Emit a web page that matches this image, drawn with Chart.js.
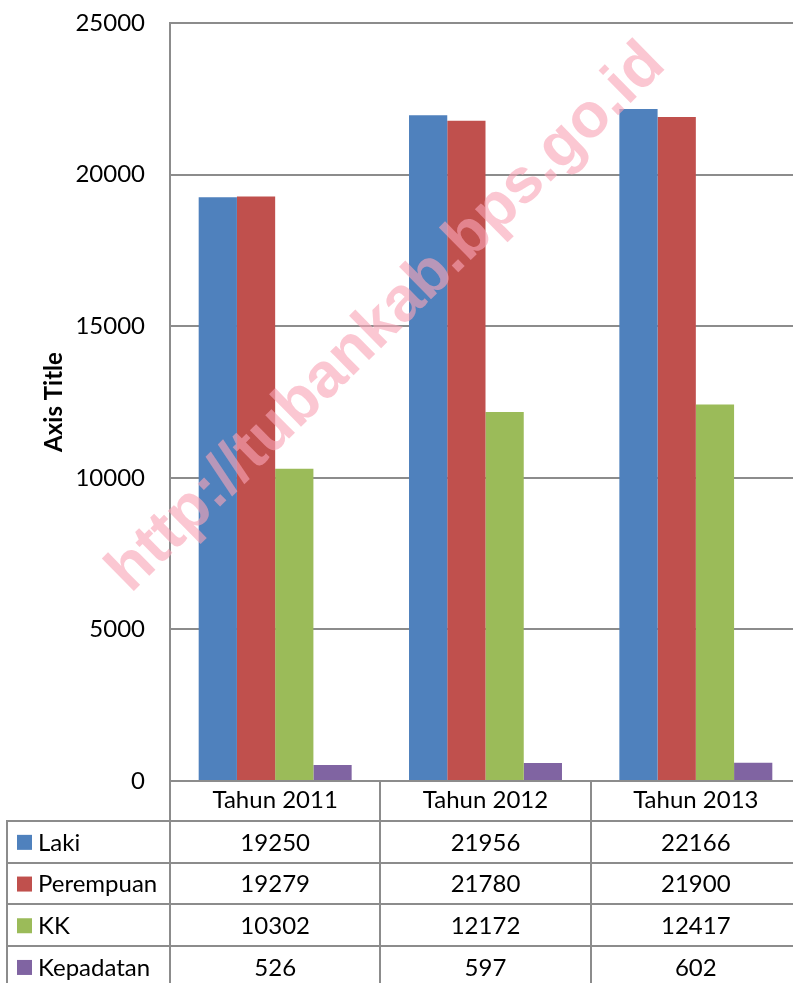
<!DOCTYPE html>
<html>
<head>
<meta charset="utf-8">
<script src="https://cdn.jsdelivr.net/npm/chart.js@4.4.0/dist/chart.umd.min.js"></script>
<style>
  html, body { margin: 0; padding: 0; background: #fff; }
  body { width: 793px; height: 983px; overflow: hidden; }
</style>
</head>
<body>
<canvas id="chart" width="801" height="983"></canvas>
<script>
// data
const categories = ['Tahun 2011', 'Tahun 2012', 'Tahun 2013'];
const laki = [19250, 21956, 22166];
const perempuan = [19279, 21780, 21900];
const kk = [10302, 12172, 12417];
const kepadatan = [526, 597, 602];
const seriesNames = ['Laki', 'Perempuan', 'KK', 'Kepadatan'];
const seriesColors = ['#4F81BD', '#C0504D', '#9BBB59', '#8064A2'];
const yMax = 25000;
const yStep = 5000;
const watermark = 'http://tubankab.bps.go.id';

const FONT = 'Lato, "Open Sans", sans-serif';
const LINE = '#8c8c8c';

// draws the data table under the plot, columns taken from the x scale
const dataTable = {
    id: 'dataTable',
    afterDraw(chart) {
        const { ctx, chartArea, scales: { x } } = chart;
        const headerH = 40, rowH = 41.7, tableLeft = 7;
        const top = chartArea.bottom;
        const bottom = chart.height;
        const half = (x.getPixelForValue(1) - x.getPixelForValue(0)) / 2;

        ctx.save();
        ctx.strokeStyle = LINE;
        ctx.lineWidth = 2;
        ctx.beginPath();
        ctx.moveTo(chartArea.left, top);
        ctx.lineTo(chartArea.left, bottom);
        categories.forEach((c, i) => {
            const e = Math.round(x.getPixelForValue(i) + half);
            ctx.moveTo(e, top);
            ctx.lineTo(e, bottom);
        });
        ctx.moveTo(tableLeft, top + headerH);
        ctx.lineTo(tableLeft, bottom);
        for (let r = 0; r < seriesNames.length; r++) {
            const y = Math.round(top + headerH + r * rowH);
            ctx.moveTo(tableLeft - 1, y);
            ctx.lineTo(chartArea.right, y);
        }
        ctx.stroke();

        ctx.font = '24px ' + FONT;
        ctx.textBaseline = 'middle';
        chart.data.datasets.forEach((ds, r) => {
            const cy = top + headerH + r * rowH + rowH / 2 + 1;
            ctx.fillStyle = ds.backgroundColor;
            ctx.fillRect(17, cy - 8, 15, 15);
            ctx.fillStyle = '#000';
            ctx.textAlign = 'left';
            ctx.fillText(ds.label, 38, cy);
            ctx.textAlign = 'center';
            ds.data.forEach((v, i) => ctx.fillText(String(v), x.getPixelForValue(i), cy));
        });
        ctx.restore();
    }
};

const watermarkText = {
    id: 'watermarkText',
    afterDraw(chart) {
        const { ctx } = chart;
        ctx.save();
        ctx.translate(387, 318);
        ctx.rotate(-44.5 * Math.PI / 180);
        ctx.font = 'bold 63px "Liberation Sans", Arial, sans-serif';
        ctx.textAlign = 'center';
        ctx.textBaseline = 'middle';
        ctx.fillStyle = 'rgba(248, 165, 182, 0.62)';
        ctx.fillText(watermark, 0, 0);
        ctx.restore();
    }
};

const seriesData = [laki, perempuan, kk, kepadatan];

new Chart(document.getElementById('chart'), {
    type: 'bar',
    data: {
        labels: categories,
        datasets: seriesNames.map((name, i) => ({
            label: name,
            data: seriesData[i],
            backgroundColor: seriesColors[i],
            borderWidth: 0,
            barPercentage: 1,
            categoryPercentage: 4 / 5.5
        }))
    },
    options: {
        responsive: false,
        animation: false,
        layout: { padding: { top: 23, left: 0, right: 0, bottom: 0 } },
        plugins: {
            legend: { display: false },
            tooltip: { enabled: false }
        },
        scales: {
            x: {
                grid: { display: false, drawTicks: false },
                border: { display: false },
                ticks: {
                    color: '#000',
                    font: { family: FONT, size: 24 },
                    padding: 5,
                    maxRotation: 0
                },
                afterFit(scale) { scale.height = 202; }
            },
            y: {
                min: 0,
                max: yMax,
                ticks: {
                    stepSize: yStep,
                    color: '#000',
                    font: { family: FONT, size: 24 },
                    padding: 25,
                    callback: v => String(v)
                },
                grid: { color: LINE, lineWidth: 2, drawTicks: false },
                border: { color: LINE, width: 2 },
                title: {
                    display: true,
                    text: 'Axis Title',
                    color: '#000',
                    font: { family: FONT, size: 24, weight: 'bold' },
                    padding: { top: 40 }
                },
                afterFit(scale) {
                    scale.width = 170;
                    scale.paddingTop = 0;
                    scale.paddingBottom = 0;
                }
            }
        }
    },
    plugins: [dataTable, watermarkText]
});
</script>
</body>
</html>
